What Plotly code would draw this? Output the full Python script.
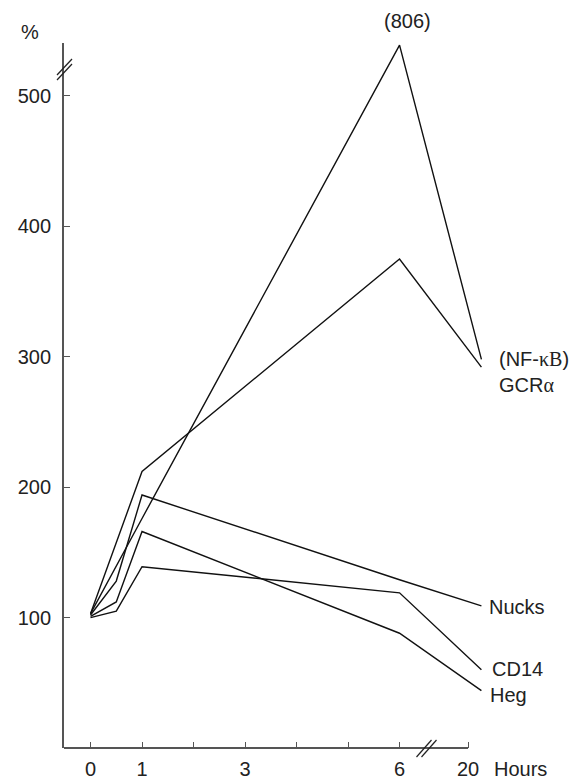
import plotly.graph_objects as go

# ---- data ----
hours = [0, 0.5, 1, 6, 20]
nfkb = [103, 139, 176, 806, 298]
gcra = [103, 157, 212, 375, 292]
nucks = [102, 128, 194, 129, 109]
cd14 = [100, 105, 139, 119, 60]
heg = [101, 112, 166, 88, 44]

series_names = ["NF-κB", "GCRα", "Nucks", "CD14", "Heg"]
series_values = [nfkb, gcra, nucks, cd14, heg]

x_tick_hours = [0, 1, 2, 3, 4, 5, 6, 20]
x_tick_text = ["0", "1", "", "3", "", "", "6", "20"]
y_tick_vals = [100, 200, 300, 400, 500]

# ---- broken-axis mappings ----
def xpos(h):
    # hours beyond 6 are compressed after the axis break
    return h if h <= 6 else 7.59

def tickpos(h):
    return h if h <= 6 else 7.33

def ypos(v):
    # values above 500 are compressed after the axis break
    return v if v <= 500 else 500 + (v - 500) * 0.1275

# page has an 8px body margin: the figure starts at (8, 8)
OFF = 8
W, H = 578 - OFF, 781 - OFF
ML, MT = 64 - OFF, 43 - OFF
PLOT_R, PLOT_B = 484 - OFF, 748 - OFF
MR, MB = W - PLOT_R, H - PLOT_B
PW, PH = W - ML - MR, H - MT - MB

def paper(page_x, page_y):
    fx, fy = page_x - OFF, page_y - OFF
    return (fx - ML) / PW, (H - MB - fy) / PH

fig = go.Figure()
for name, vals in zip(series_names, series_values):
    fig.add_trace(go.Scatter(
        x=[xpos(h) for h in hours],
        y=[ypos(v) for v in vals],
        mode="lines",
        name=name,
        line=dict(color="#111111", width=1.4),
        showlegend=False,
        hoverinfo="skip",
    ))

FONT = "Liberation Sans, Arial, Helvetica, sans-serif"
AX = "#555555"
TXT = "#222222"

XR = [-0.515, 7.64]

fig.update_layout(
    width=W, height=H,
    margin=dict(l=ML, r=MR, t=MT, b=MB, pad=0, autoexpand=False),
    paper_bgcolor="white", plot_bgcolor="white",
    font=dict(family=FONT, size=20, color=TXT),
    xaxis=dict(
        range=XR,
        tickvals=[tickpos(h) for h in x_tick_hours],
        ticktext=x_tick_text,
        ticks="inside", ticklen=6, tickwidth=1.3, tickcolor=AX,
        showline=False, showgrid=False, zeroline=False,
        automargin=False,
        ticklabelstandoff=7,
        tickfont=dict(size=20, color=TXT),
    ),
    yaxis=dict(
        range=[0, 540.6],
        tickvals=y_tick_vals,
        ticks="inside", ticklen=6, tickwidth=1.3, tickcolor=AX,
        showline=True, linecolor=AX, linewidth=1.8,
        showgrid=False, zeroline=False,
        automargin=False,
        ticklabelstandoff=7,
        tickfont=dict(size=20, color=TXT),
    ),
)

shapes = []
# x-axis line, ending at the "20" tick
shapes.append(dict(type="line", xref="paper", yref="paper",
                   x0=0, x1=(tickpos(20) - XR[0]) / (XR[1] - XR[0]), y0=0, y1=0,
                   line=dict(color=AX, width=1.8)))
# x-axis break marks
for dx in (0, 5):
    x0, y0 = paper(416.5 + dx, 757)
    x1, y1 = paper(431.5 + dx, 740)
    shapes.append(dict(type="line", xref="paper", yref="paper",
                       x0=x0, y0=y0, x1=x1, y1=y1,
                       line=dict(color="#222222", width=1.2)))
# y-axis break marks
for dy in (0, 5):
    x0, y0 = paper(57, 80 - dy)
    x1, y1 = paper(72, 64 - dy)
    shapes.append(dict(type="line", xref="paper", yref="paper",
                       x0=x0, y0=y0, x1=x1, y1=y1,
                       line=dict(color="#222222", width=1.2)))
fig.update_layout(shapes=shapes)

labels = [
    ("%", 30, 32, "center"),
    ("(806)", 407, 21, "center"),
    ('(NF-<span style="font-family:Liberation Serif">κB</span>)', 497, 359, "left"),
    ('GCR<span style="font-family:Liberation Serif">α</span>', 497, 385, "left"),
    ("Nucks", 487, 607, "left"),
    ("CD14", 490, 669, "left"),
    ("Heg", 488, 695, "left"),
    ("Hours", 492, 769, "left"),
]
for text, lx, ly, anchor in labels:
    ax_, ay_ = paper(lx, ly)
    fig.add_annotation(x=ax_, y=ay_, xref="paper", yref="paper",
                       text=text, showarrow=False, xanchor=anchor,
                       yanchor="middle", font=dict(size=20, color=TXT, family=FONT))

fig.write_html("out.html")
